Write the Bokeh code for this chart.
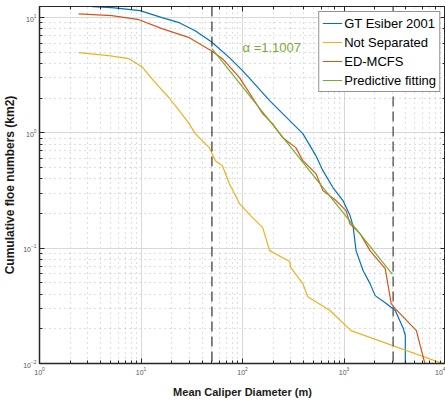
from bokeh.plotting import figure
from bokeh.models import Span, Label, LogAxis, Range1d, Legend, LegendItem, LogTicker, CustomJSTickFormatter
from bokeh.embed import file_html
from bokeh.resources import INLINE

# ---- data ----
gt_x = [3.3, 5.16, 9.77, 16.1, 23.8, 34.2, 49.3, 74.3, 100, 125.6, 185, 292, 393, 528, 620,
        778, 977, 1146, 1227, 1314, 1541, 1806, 2028, 2606, 3200, 3838, 4018, 4018]
gt_y = [12.45, 12.2, 11.5, 10.0, 9.05, 7.71, 6.19, 4.5, 3.47, 2.79, 1.91, 1.28, 0.986, 0.636, 0.471,
        0.336, 0.259, 0.192, 0.157, 0.0953, 0.064, 0.0493, 0.0388, 0.0331, 0.0288, 0.0201, 0.0175, 0.009]

ns_x = [2.43, 4.82, 7.6, 10.2, 13.8, 18.9, 23.8, 29.9, 34.2, 47.1, 54, 63.4, 74.3, 93.4, 120,
        158, 185, 292, 299, 393, 440, 727, 1172, 10000]
ns_y = [4.97, 4.68, 4.41, 3.76, 2.73, 2.02, 1.56, 1.2, 0.986, 0.746, 0.575, 0.52, 0.363, 0.244, 0.192,
        0.151, 0.0953, 0.0766, 0.068, 0.0493, 0.038, 0.0288, 0.0193, 0.0098]

ed_x = [2.43, 5.16, 9.55, 16.1, 29.9, 49.3, 63.4, 93.4, 125.6, 158, 198, 249, 335, 393, 528,
        620, 834, 1047, 1146, 1439, 1806, 2547, 2918, 3200, 5163, 6339]
ed_y = [10.8, 10.4, 9.6, 8.03, 6.71, 5.17, 4.41, 3.02, 2.02, 1.47, 1.2, 0.91, 0.746, 0.575, 0.444,
        0.316, 0.259, 0.212, 0.163, 0.134, 0.0953, 0.0665, 0.0331, 0.0299, 0.0193, 0.0096]

fit_x = [50, 3000]
fit_y = [5.38, 0.0594]

cut_lo, cut_hi = 50, 3050
alpha_text = "\u03b1 =1.1007"

labels = ["GT Esiber 2001", "Not Separated", "ED-MCFS", "Predictive fitting"]
colors = ["#0072BD", "#EDB120", "#D95319", "#77AC30"]

FONT = "Liberation Sans"
AX = "#262626"

p = figure(width=445, height=403, x_axis_type="log", y_axis_type="log",
           x_range=Range1d(1, 10000), y_range=Range1d(0.01, 12.5),
           output_backend="svg", toolbar_location=None,
           min_border_left=38, min_border_right=0, min_border_top=6, min_border_bottom=40)
p.background_fill_color = "white"
p.border_fill_color = "white"
p.outline_line_color = AX
p.outline_line_width = 1

# grids
for g in (p.xgrid, p.ygrid):
    g.grid_line_color = "#d8d8d8"
    g.grid_line_width = 1
    g.minor_grid_line_color = "#a0a0a0"
    g.minor_grid_line_dash = "1 4"
    g.minor_grid_line_alpha = 0.7

def style_axis(ax, show_labels=True):
    ax.axis_line_color = AX
    ax.axis_line_width = 1.5
    ax.major_tick_in = 5
    ax.major_tick_out = 0
    ax.minor_tick_in = 3
    ax.minor_tick_out = 0
    ax.major_tick_line_color = AX
    ax.minor_tick_line_color = AX
    ax.major_label_text_font = FONT
    ax.major_label_text_color = "#555555"
    ax.major_label_text_font_size = "7px" if show_labels else "1px"
    ax.major_label_standoff = 3 if show_labels else 0
    if not show_labels:
        ax.formatter = CustomJSTickFormatter(code="return ''")

style_axis(p.xaxis[0])
style_axis(p.yaxis[0])
p.xaxis[0].axis_label = "Mean Caliper Diameter (m)"
p.yaxis[0].axis_label = "Cumulative floe numbers (km2)"
for ax, sz in ((p.xaxis[0], "11px"), (p.yaxis[0], "12px")):
    ax.axis_label_text_font = FONT
    ax.axis_label_text_font_style = "bold"
    ax.axis_label_text_font_size = sz
    ax.axis_label_text_color = "#1a1a1a"
p.xaxis[0].axis_label_standoff = 8
p.yaxis[0].axis_label_standoff = 3

top = LogAxis(ticker=LogTicker())
right = LogAxis(ticker=LogTicker())
style_axis(top, False)
style_axis(right, False)
top.axis_line_width = 1
right.axis_line_width = 1
p.add_layout(top, "above")
p.add_layout(right, "right")

# data lines
r_gt = p.line(gt_x, gt_y, line_color=colors[0], line_width=1.2)
r_ns = p.line(ns_x, ns_y, line_color=colors[1], line_width=1.2)
r_ed = p.line(ed_x, ed_y, line_color=colors[2], line_width=1.2)
r_fit = p.line(fit_x, fit_y, line_color=colors[3], line_width=1.2)

p.add_layout(Span(location=cut_lo, dimension="height", line_color="#333333",
                  line_dash="10 5", line_width=1.2))
p.add_layout(Span(location=cut_hi, dimension="height", line_color="#666666",
                  line_dash="10 5", line_width=1.5))

p.add_layout(Label(x=100, y=5.5, text=alpha_text, text_color=colors[3],
                   text_font=FONT, text_font_size="13px", text_baseline="middle"))

legend = Legend(items=[LegendItem(label=labels[0], renderers=[r_gt]),
                       LegendItem(label=labels[1], renderers=[r_ns]),
                       LegendItem(label=labels[2], renderers=[r_ed]),
                       LegendItem(label=labels[3], renderers=[r_fit])],
                location="top_right")
legend.label_text_font = FONT
legend.label_text_font_size = "13px"
legend.label_text_color = "#000000"
legend.border_line_color = "#262626"
legend.border_line_width = 1
legend.background_fill_color = "white"
legend.background_fill_alpha = 1
legend.glyph_width = 20
legend.glyph_height = 16
legend.label_height = 16
legend.label_standoff = 2
legend.spacing = 3
legend.padding = 3
legend.margin = 5
p.add_layout(legend)

open("out.html", "w").write(file_html(p, INLINE))
